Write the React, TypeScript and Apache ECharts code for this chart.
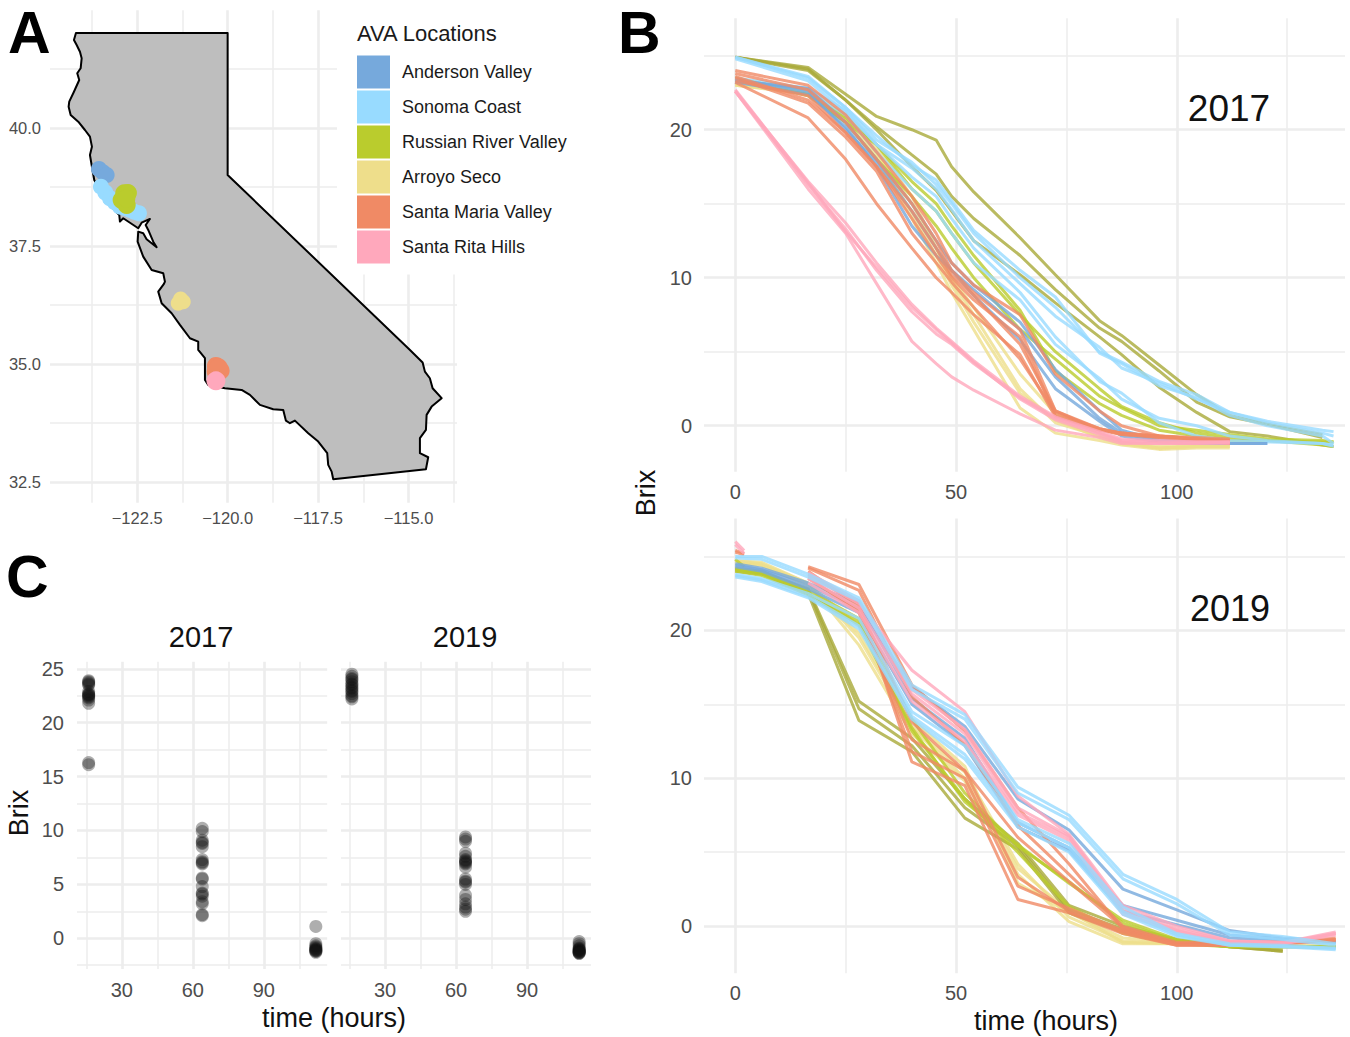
import React, { useEffect, useRef } from "react";
import * as echarts from "echarts";

const AVA_NAMES = ["Anderson Valley", "Sonoma Coast", "Russian River Valley", "Arroyo Seco", "Santa Maria Valley", "Santa Rita Hills"];
const AVA_COLORS = ["#76A9DC", "#98DBFF", "#BACC2D", "#EEDE8B", "#F08A65", "#FFA8BC"];
const OLIVE = "#A9AA3A";

// California outline, longitude / latitude
const CA_LON = [-124.193, -120, -120, -114.96, -114.61, -114.547, -114.41, -114.334, -114.085, -114.361, -114.5, -114.519, -114.685, -114.685, -114.456, -114.519, -117.081, -117.125, -117.22, -117.247, -117.496, -117.772, -118.14, -118.278, -118.389, -118.463, -118.74, -119.107, -119.384, -119.613, -120.075, -120.536, -120.627, -120.627, -120.813, -120.813, -121.042, -121.318, -121.548, -121.824, -121.918, -121.761, -121.733, -121.78, -122.1, -122.333, -122.488, -122.471, -122.333, -122.239, -121.962, -122.056, -122.195, -122.266, -122.148, -122.377, -122.471, -122.886, -122.977, -122.996, -123.391, -123.687, -123.759, -123.806, -123.751, -123.806, -123.944, -124.129, -124.339, -124.395, -124.378, -124.248, -124.102, -124.157, -124.063, -124.035, -124.082, -124.173, -124.248];
const CA_LAT = [42.007, 42.007, 39, 35.295, 35.03, 34.836, 34.696, 34.484, 34.273, 34.095, 33.92, 33.601, 33.426, 33.108, 33.023, 32.769, 32.558, 32.719, 32.861, 33.108, 33.354, 33.532, 33.798, 33.743, 33.798, 34.025, 34.04, 34.131, 34.343, 34.449, 34.484, 34.554, 34.66, 35.12, 35.295, 35.471, 35.543, 35.825, 36.072, 36.284, 36.53, 36.693, 36.741, 36.919, 36.989, 37.271, 37.588, 37.8, 37.766, 37.639, 37.47, 37.588, 37.836, 37.942, 38.069, 37.991, 37.872, 38.084, 38.012, 38.154, 38.471, 38.895, 39.212, 39.424, 39.6, 39.812, 39.953, 40.129, 40.271, 40.447, 40.553, 40.764, 41.012, 41.154, 41.26, 41.472, 41.611, 41.753, 41.859];

// Vineyard sites
const SITES: number[][][] = [
  [[-123.557, 39.128], [-123.45, 39.06], [-123.344, 39]],
  [[-123.502, 38.753], [-123.38, 38.63], [-123.253, 38.507], [-123.115, 38.42], [-122.977, 38.33], [-122.84, 38.3], [-122.7, 38.26], [-122.58, 38.22], [-122.452, 38.19]],
  [[-122.858, 38.613], [-122.756, 38.62], [-122.93, 38.47], [-122.79, 38.365], [-122.8, 38.5]],
  [[-121.3, 36.375], [-121.227, 36.318], [-121.365, 36.284]],
  [[-120.323, 34.957], [-120.193, 34.857], [-120.332, 34.836], [-120.25, 34.93]],
  [[-120.323, 34.64]],
];
const SITE_SIZES = [16, 16, 18, 15, 18, 19];

const T17 = [0, 16.5, 25, 32, 40, 45.5, 49, 54, 64.5, 72.5, 82.5, 87.5, 96, 104.5, 112, 120.5, 133, 135.5];
const T19 = [0, 6, 16.5, 28, 40, 52, 64, 75.6, 87.8, 100, 112, 124, 136];
const T_STUB = [0, 2];

const ROWS17_RRV_DARK = [
  [24.9, 24.2, 22.4, 20.9, 20, 19.3, 17.5, 15.8, 12.7, 10.2, 7.1, 6.1, 4.1, 2.1, 0.7, 0.1, -0.6],
  [24.9, 24, 22, 20.2, 18.3, 17, 15.5, 14, 11.5, 9.2, 6.6, 5.7, 3.7, 1.6, 0.6, 0.1, -0.8],
  [24.9, 24.1, 22, 20, 17.5, 15.9, 14.5, 12.5, 10.2, 8.3, 6, 4.8, 2.6, 0.9, -0.4, -0.7, -1.3, -1.4],
];
const ROWS17_RRV = [
  [23.5, 22.3, 20.5, 18, 15.5, 13.5, 12, 10, 6.5, 4.5, 2, 1.2, 0, -0.3, -0.6, -0.9, -1, -1.1],
  [23.3, 22.4, 20.5, 19, 16, 14.5, 13, 11, 7.5, 5, 2.5, 1.3, 0.2, -0.5, -0.8, -1, -1.1, -1.1],
  [23.5, 22.5, 20.8, 19, 16.5, 15, 13.5, 11.5, 7.8, 3.7, 1.5, 0.7, -0.3, -0.7, -1, -1, -1.3, -1.4],
];
const ROWS17_SON = [
  [24.9, 23.5, 21.5, 19.3, 17.8, 16.3, 15, 13, 10, 8, 5, 4.3, 3, 2.1, 0.9, 0.3, -0.3, -0.4],
  [24.8, 23.3, 21.2, 19, 17.4, 16, 14.6, 12.5, 9.6, 7.4, 5.3, 3.9, 2.9, 1.8, 0.9, 0.2, -0.5, -0.7],
  [24.9, 23.6, 21.5, 19.6, 17.6, 16.6, 15.2, 13.2, 10.5, 8.7, 4.9, 4.2, 2.7, 1.9, 0.7, 0, -0.7, -1.2],
  [23.4, 22.6, 21, 18.5, 16, 14.5, 13, 11, 8.5, 5.5, 3.2, 1.8, 0.5, 0, -0.7, -1, -1.2, -1.4],
  [23.5, 22.8, 21.3, 19, 16.8, 15.5, 14, 12, 9, 6, 3, 2.2, 0.2, -0.7, -1, -1.1, -1.2, -1.3],
];
const ROWS17_AND = [
  [23.2, 22.4, 20.2, 17.5, 13.5, 11.5, 10.5, 8.8, 5.8, 2.5, 0.3, -0.7, -1.1, -1.2, -1.2, -1.2],
  [23.4, 22.6, 20, 17.8, 14.5, 12, 10.5, 9.2, 6.5, 3.3, 0.5, -0.5, -1, -1.1, -1.2, -1.2],
  [23.3, 22.8, 20.5, 18, 15, 12.5, 11, 9.5, 7, 3.8, 1, -0.3, -1, -1.1, -1.2],
];
const ROWS17_ARR = [
  [23, 22.5, 20.5, 18, 14, 11, 9, 6.5, 1.2, -0.5, -1, -1.3, -1.6, -1.5, -1.5],
  [23.1, 22.6, 21, 18.5, 15, 12, 9.8, 7.5, 2.5, 0.2, -0.7, -1.2, -1.5, -1.4, -1.4],
  [23, 22.4, 21, 18.8, 15.5, 12, 10, 8, 3.5, 0.8, -0.5, -1.1, -1.4, -1.3, -1.3],
  [23.2, 22.7, 20.8, 18.3, 14.4, 11.5, 9.5, 7, 2.2, 0.4, -0.8, -1.2, -1.5, -1.4, -1.4],
];
const ROWS17_SMV = [
  [24, 23, 21, 18.5, 15.5, 13, 11, 9.5, 7.5, 3.5, 1, 0, -0.7, -0.9, -1.2],
  [23.8, 22.7, 20.5, 18, 15, 12.5, 10.5, 9, 6.5, 1, -0.3, -0.5, -0.8, -1, -1.2],
  [23.5, 21.8, 19.5, 17.2, 13, 11, 9.7, 8, 4.5, 0.9, -0.2, -0.5, -0.7, -0.8, -0.9],
  [23.3, 22.3, 19.8, 17.5, 14, 11.5, 10, 8.5, 6, 0.7, -0.2, -0.6, -0.7, -0.9, -1],
  [23.2, 20.8, 18, 15, 12, 10, 9, 7.5, 4.8, 0.6, -0.3, -0.6, -0.8, -0.9, -1.1],
  [23.6, 22, 19.8, 17.5, 14.5, 12, 10.2, 8.8, 5.5, 1, -0.2, -0.5, -0.7, -0.9, -1],
];
const ROWS17_SRH = [
  [22.6, 16, 13, 9.6, 5.7, 4.2, 3.3, 2.4, 0.8, -0.3, -0.8, -1.2, -1.2, -1.2, -1.1],
  [22.6, 16.3, 13.3, 10.5, 7.7, 6.2, 5.5, 4.2, 1.9, 0.5, -0.5, -1, -1.1, -1.1, -1.1],
  [22.6, 16.5, 13.7, 11, 8.2, 6.6, 5.7, 4.4, 2, 0.6, -0.4, -0.9, -1, -1.1, -1.1],
  [22.7, 16.4, 13.1, 10.7, 8, 6.5, 5.6, 4.3, 1.8, 0.4, -0.6, -1.1, -1.2, -1.2, -1.2],
];

const N = null;
const ROWS19_ARR = [
  [24.7, 24.5, 23.2, 19, 13, 9.8, 3.5, 0.3, -1.2, -1.2, -1.3, -1.3, -1.3],
  [24.6, 24.4, 23, 19.8, 13.5, 10.4, 4.2, 0.6, -1, -1.2, -1.3, -1.3],
  [24.5, 24.4, 23.1, 20.3, 14, 10.8, 2.9, 0.9, -0.8, -1.1, -1.3],
  [24.7, 24.6, 23.2, 19.5, 13.4, 10, 3.9, 1, -1.1, -1.2, -1.3],
];
const ROWS19_RRV_DARK = [
  [24.1, 23.9, 22.8, 15.2, 12.7, 8.6, 5.6, 1.4, 0, -0.9, -1.4, -1.7],
  [24.2, 24, 22.7, 14.7, 12.2, 8, 5.4, 1.1, -0.2, -1, -1.4, -1.7],
  [24, 23.8, 22.5, 13.9, 11.8, 7.3, 5.2, 0.9, -0.4, -1.1, -1.4, -1.6],
];
const ROWS19_RRV = [
  [24.1, 23.9, 22.5, 20.6, 13.4, 8.4, 5.5, 2.9, 0.4, -0.9, -1.3, -1.4, -1.4],
  [24.2, 23.9, 22.7, 20.8, 14, 9, 5.4, 3, 0.2, -1, -1.4, -1.4, -1.4],
  [24, 23.7, 22.4, 20.4, 13.2, 8.6, 5, 1.3, -0.5, -1.2, -1.4, -1.4, -1.4],
];
const ROWS19_AND = [
  [24.4, 24.1, 23, 21.5, 16.2, 13.5, 8.6, 6.5, 2.5, 1.1, -0.3, -0.8, -1],
  [24.5, 24.2, 23.2, 21.8, 15.4, 12.7, 7, 5.3, 1.4, 0.4, -0.6, -0.9, -1.1],
  [24.3, 24, 22.8, 21.2, 15, 12.2, 6.7, 5.1, 1, 0.1, -0.8, -1, -1.1],
];
const ROWS19_SMV = [
  [N, N, 24.3, 23.1, 16.3, 13.2, 8, 4.2, -0.2, -1.2, -1.1, -1.1, -0.8],
  [N, N, 24.2, 22.7, 15.5, 12.3, 6.8, 3.5, 0, -1.1, -1.1, -1.1, -0.9],
  [N, N, 24, 21.6, 13.8, 10.5, 6, 3, -0.1, -1.2, -1.2, -1.2, -0.9],
  [N, N, 23.8, 21.8, 11.1, 9.5, 1.8, 0.9, -0.5, -1.3, -1.3, -1.2, -1],
  [N, N, 23.5, 21.4, 11.8, 10, 2.7, 1.2, -0.3, -1.2, -1.3],
  [N, N, 23.6, 21.2, 12.6, 10.5, 3.3, 1, -0.4, -1.3, -1.3],
];
const ROWS19_SRH = [
  [N, N, 23.7, 21.8, 17.3, 14.5, 8.8, 6.2, 1.4, 0, -1, -1.1, -0.4],
  [N, N, 23.5, 21.5, 15.7, 13, 7.7, 6, 1, -0.3, -1.1, -1.2, -0.5],
  [N, N, 23.2, 21.2, 15.2, 12.5, 7.5, 5.8, 0.8, -0.4, -1.1, -1.2, -0.6],
  [N, N, 23.9, 22, 16, 13.3, 8, 6.1, 1.2, -0.2, -1, -1.1, -0.5],
];
const ROWS19_SON = [
  [25, 25, 23.8, 22.2, 16.3, 14.3, 9.4, 7.5, 3.5, 1.8, -0.4, -0.7, -1.2],
  [24.9, 24.8, 23.6, 22, 16, 14, 9, 7.2, 3.2, 1.5, -0.6, -0.9, -1.3],
  [23.7, 23.4, 22.3, 20.3, 14.2, 11.6, 7, 5.3, 1, -0.6, -1.3, -1.4, -1.5],
  [23.6, 23.3, 22.2, 20.1, 14, 11.3, 6.7, 5, 0.8, -0.7, -1.3, -1.4, -1.6],
  [23.8, 23.5, 22.5, 20.8, 14.5, 12.2, 7.2, 5.6, 1.3, -0.5, -1.2, -1.3, -1.5],
];
const STUB19_SMV = [[25.4, 25.2], [25.3, 25.1]];
const STUB19_SRH = [[26, 25.4], [25.8, 25.2]];
const STUB19_RRV = [[24.8, 24.3]];

// Brix at the three sampled hours
const C17_T16 = [23.9, 23.8, 23.7, 23.6, 23.5, 22.9, 22.7, 22.6, 22.6, 22.5, 22.4, 22.3, 22.1, 21.8, 16.3, 16.1];
const C17_T64 = [10.2, 9.9, 9.1, 8.9, 8.8, 8.5, 7.3, 7.1, 7, 6.9, 5.6, 5.5, 4.8, 4.2, 4.1, 3.9, 3.4, 3.2, 2.2, 2.1];
const C17_T112 = [1.1, -0.5, -0.7, -0.8, -0.9, -1, -1, -1.1, -1.1, -1.2, -1.2, -1.3];
const C19_T16 = [24.5, 24.3, 24.1, 24, 23.8, 23.6, 23.5, 23.3, 23.2, 23, 22.9, 22.7, 22.5, 22.4, 22.2];
const C19_T64 = [9.4, 9.2, 9, 7.9, 7.6, 7.3, 7.2, 7.1, 7, 6.9, 6.6, 5.5, 5.3, 5.2, 5, 4, 3.6, 3.2, 2.9, 2.7, 2.5];
const C19_T112 = [-0.3, -0.5, -0.7, -0.9, -1, -1, -1.1, -1.1, -1.2, -1.2, -1.3, -1.3, -1.3, -1.4, -1.4];

const FONT = '"Liberation Sans", Arial, sans-serif';
const GREY = "#4D4D4D";
const GRID_COLOR = "#EDEDED";

function axisPair(gridIndex: number, min: number, max: number, major: number[], minor: number[], showLabel: boolean, size: number, margin: number, fmt: (v: number) => string) {
  const base = { type: "value", gridIndex, min, max, scale: true, axisLine: { show: false, onZero: false }, axisPointer: { show: false } };
  return [
    {
      ...base,
      axisTick: { show: false, customValues: major },
      axisLabel: { show: showLabel, customValues: major, color: GREY, fontFamily: FONT, fontSize: size, margin, formatter: fmt, hideOverlap: false },
      splitLine: { show: true, lineStyle: { color: GRID_COLOR, width: 2.6 } },
    },
    {
      ...base,
      axisTick: { show: false, customValues: minor },
      axisLabel: { show: false, customValues: minor },
      splitLine: { show: true, lineStyle: { color: GRID_COLOR, width: 1.5 } },
    },
  ];
}

const plain = (v: number) => String(v);
const lonFmt = (v: number) => "\u2212" + Math.abs(v).toFixed(1);
const latFmt = (v: number) => v.toFixed(1);

function lineSeries(grid: number, name: string, color: string, times: number[], rows: (number | null)[][], width = 3, opacity = 0.8) {
  return rows.map((row) => ({
    type: "line",
    name,
    xAxisIndex: grid * 2,
    yAxisIndex: grid * 2,
    showSymbol: false,
    silent: true,
    lineStyle: { color, width, opacity },
    data: row.map((v, i) => [times[i], v]).filter((p) => p[1] !== null),
  }));
}

function dots(grid: number, t: number, values: number[]) {
  return {
    type: "scatter",
    xAxisIndex: grid * 2,
    yAxisIndex: grid * 2,
    symbolSize: 13,
    silent: true,
    itemStyle: { color: "#111", opacity: 0.34, borderWidth: 0 },
    data: values.map((v) => [t, v]),
  };
}

function label(text: string, x: number, y: number, font: string, fill = "#111", rotation = 0, textAlign = "center") {
  return { type: "text", x, y, rotation, z: 10, silent: true, style: { text, font, fill, textAlign, textVerticalAlign: "middle" } };
}

export default function App() {
  const ref = useRef<HTMLDivElement>(null);
  useEffect(() => {
    const chart = echarts.init(ref.current!, undefined, { renderer: "svg" });
    const outline = CA_LON.map((lon, i) => [lon, CA_LAT[i]]);

    const bX = [0, 50, 100], bXm = [25, 75, 125];
    const bY = [0, 10, 20], bYm = [5, 15, 25];
    const cX = [30, 60, 90], cXm = [15, 45, 75, 105];
    const cY = [0, 5, 10, 15, 20, 25], cYm = [-2.5, 2.5, 7.5, 12.5, 17.5, 22.5];

    const grids = [
      { left: 50, top: 10.3, width: 407, height: 492.4 },
      { left: 704, top: 18.3, width: 641, height: 453.4 },
      { left: 704, top: 518.4, width: 641, height: 454.8 },
      { left: 77, top: 661.7, width: 250.2, height: 307.3 },
      { left: 341, top: 661.7, width: 250, height: 307.3 },
    ];
    const xAxis = [
      ...axisPair(0, -124.91, -113.66, [-122.5, -120, -117.5, -115], [-123.75, -121.25, -118.75, -116.25, -113.75], true, 16.5, 7, lonFmt),
      ...axisPair(1, -7.09, 138.1, bX, bXm, true, 20, 10, plain),
      ...axisPair(2, -7.09, 138.1, bX, bXm, true, 20, 10, plain),
      ...axisPair(3, 11.07, 116.8, cX, cXm, true, 20, 11, plain),
      ...axisPair(4, 11.4, 117, cX, cXm, true, 20, 11, plain),
    ];
    const yAxis = [
      ...axisPair(0, 32.06, 42.488, [32.5, 35, 37.5, 40], [33.75, 36.25, 38.75, 41.25], true, 16.5, 9, latFmt),
      ...axisPair(1, -3.108, 27.53, bY, bYm, true, 20, 12, plain),
      ...axisPair(2, -3.185, 27.57, bY, bYm, true, 20, 12, plain),
      ...axisPair(3, -2.85, 25.66, cY, cYm, true, 20, 13, plain),
      ...axisPair(4, -2.85, 25.66, cY, cYm, false, 20, 13, plain),
    ];

    const series: any[] = [
      {
        type: "custom",
        xAxisIndex: 0,
        yAxisIndex: 0,
        silent: true,
        z: 2,
        clip: false,
        data: [outline[0]],
        renderItem: (_p: any, api: any) => ({
          type: "polygon",
          shape: { points: outline.map((pt) => api.coord(pt)) },
          style: { fill: "#BEBEBE", stroke: "#000", lineWidth: 2, lineJoin: "round" },
        }),
      },
      ...SITES.map((pts, i) => ({
        type: "scatter",
        name: AVA_NAMES[i],
        xAxisIndex: 0,
        yAxisIndex: 0,
        z: 3,
        silent: true,
        symbolSize: SITE_SIZES[i],
        itemStyle: { color: AVA_COLORS[i], opacity: 1, borderWidth: 0 },
        data: pts,
      })),
      ...lineSeries(1, AVA_NAMES[3], AVA_COLORS[3], T17, ROWS17_ARR),
      ...lineSeries(1, AVA_NAMES[2], OLIVE, T17, ROWS17_RRV_DARK),
      ...lineSeries(1, AVA_NAMES[2], AVA_COLORS[2], T17, ROWS17_RRV),
      ...lineSeries(1, AVA_NAMES[1], AVA_COLORS[1], T17, ROWS17_SON),
      ...lineSeries(1, AVA_NAMES[0], AVA_COLORS[0], T17, ROWS17_AND),
      ...lineSeries(1, AVA_NAMES[4], AVA_COLORS[4], T17, ROWS17_SMV),
      ...lineSeries(1, AVA_NAMES[5], AVA_COLORS[5], T17, ROWS17_SRH),
      ...lineSeries(2, AVA_NAMES[3], AVA_COLORS[3], T19, ROWS19_ARR),
      ...lineSeries(2, AVA_NAMES[2], OLIVE, T19, ROWS19_RRV_DARK),
      ...lineSeries(2, AVA_NAMES[2], AVA_COLORS[2], T19, ROWS19_RRV),
      ...lineSeries(2, AVA_NAMES[2], AVA_COLORS[2], T_STUB, STUB19_RRV),
      ...lineSeries(2, AVA_NAMES[0], AVA_COLORS[0], T19, ROWS19_AND),
      ...lineSeries(2, AVA_NAMES[4], AVA_COLORS[4], T19, ROWS19_SMV),
      ...lineSeries(2, AVA_NAMES[4], AVA_COLORS[4], T_STUB, STUB19_SMV),
      ...lineSeries(2, AVA_NAMES[5], AVA_COLORS[5], T19, ROWS19_SRH),
      ...lineSeries(2, AVA_NAMES[5], AVA_COLORS[5], T_STUB, STUB19_SRH),
      ...lineSeries(2, AVA_NAMES[1], AVA_COLORS[1], T19, ROWS19_SON),
      dots(3, 16, C17_T16),
      dots(3, 64, C17_T64),
      dots(3, 112, C17_T112),
      dots(4, 16, C19_T16),
      dots(4, 64, C19_T64),
      dots(4, 112, C19_T112),
    ];

    chart.setOption({
      animation: false,
      backgroundColor: "#fff",
      textStyle: { fontFamily: FONT },
      grid: grids,
      xAxis,
      yAxis,
      series,
      legend: {
        show: true,
        left: 357,
        top: 55.6,
        orient: "vertical",
        padding: 0,
        itemWidth: 33,
        itemHeight: 33,
        itemGap: 2,
        icon: "rect",
        selectedMode: false,
        data: AVA_NAMES,
        textStyle: { fontFamily: FONT, fontSize: 18, color: "#1a1a1a", padding: [0, 0, 0, 7] },
      },
      graphic: {
        elements: [
          { type: "rect", z: 1, silent: true, shape: { x: 337, y: 0, width: 260, height: 274.5 }, style: { fill: "#fff" } },
          label("AVA Locations", 357, 33, `22px ${FONT}`, "#1a1a1a", 0, "left"),
          label("A", 8, 33, `700 59px ${FONT}`, "#000", 0, "left"),
          label("B", 618, 33, `700 59px ${FONT}`, "#000", 0, "left"),
          label("C", 6, 577, `700 59px ${FONT}`, "#000", 0, "left"),
          label("2017", 1229, 108, `37px ${FONT}`),
          label("2019", 1230, 608, `36px ${FONT}`),
          label("2017", 201, 637, `29px ${FONT}`),
          label("2019", 465, 637, `29px ${FONT}`),
          label("Brix", 646, 493, `27px ${FONT}`, "#111", Math.PI / 2),
          label("Brix", 19, 813, `27px ${FONT}`, "#111", Math.PI / 2),
          label("time (hours)", 1046, 1021, `27px ${FONT}`),
          label("time (hours)", 334, 1018, `27px ${FONT}`),
        ],
      },
    });
    return () => chart.dispose();
  }, []);
  return <div ref={ref} style={{ position: "absolute", left: 0, top: 0, width: 1350, height: 1037 }} />;
}
